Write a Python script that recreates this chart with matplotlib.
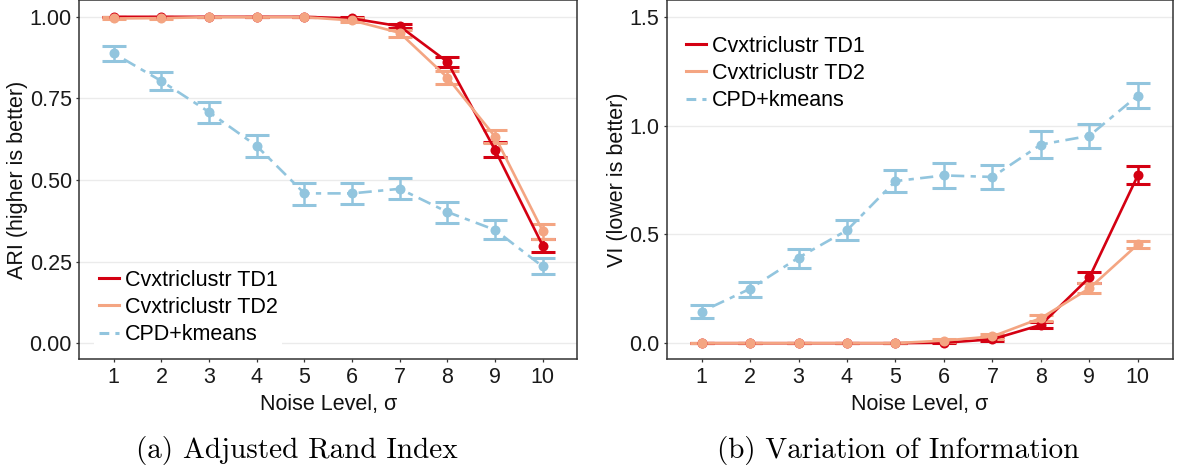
import matplotlib
matplotlib.use("Agg")
import matplotlib.pyplot as plt
from matplotlib.lines import Line2D
import numpy as np

noise = [1, 2, 3, 4, 5, 6, 7, 8, 9, 10]
series = ["Cvxtriclustr TD1", "Cvxtriclustr TD2", "CPD+kmeans"]

# ARI (mean, lower, upper)
ari_td1 = [1.000, 1.000, 1.000, 1.000, 1.000, 0.995, 0.971, 0.862, 0.592, 0.299]
ari_td1_lo = [1.000, 1.000, 1.000, 1.000, 1.000, 0.992, 0.965, 0.845, 0.569, 0.278]
ari_td1_hi = [1.000, 1.000, 1.000, 1.000, 1.000, 0.998, 0.977, 0.878, 0.615, 0.320]
ari_td2 = [0.995, 0.996, 0.999, 0.999, 0.999, 0.989, 0.951, 0.814, 0.633, 0.344]
ari_td2_lo = [0.992, 0.993, 0.998, 0.998, 0.998, 0.983, 0.939, 0.794, 0.612, 0.320]
ari_td2_hi = [0.998, 0.999, 1.000, 1.000, 1.000, 0.995, 0.961, 0.835, 0.653, 0.365]
ari_cpd = [0.888, 0.803, 0.708, 0.604, 0.459, 0.459, 0.473, 0.402, 0.347, 0.235]
ari_cpd_lo = [0.864, 0.776, 0.676, 0.571, 0.424, 0.426, 0.441, 0.369, 0.318, 0.212]
ari_cpd_hi = [0.910, 0.831, 0.739, 0.637, 0.490, 0.492, 0.506, 0.433, 0.376, 0.261]

# VI (mean, lower, upper)
vi_td1 = [0.000, 0.000, 0.000, 0.000, 0.000, 0.002, 0.018, 0.084, 0.302, 0.771]
vi_td1_lo = [0.000, 0.000, 0.000, 0.000, 0.000, 0.000, 0.009, 0.069, 0.278, 0.733]
vi_td1_hi = [0.000, 0.000, 0.000, 0.000, 0.000, 0.005, 0.030, 0.099, 0.328, 0.813]
vi_td2 = [0.000, 0.000, 0.000, 0.000, 0.000, 0.012, 0.031, 0.115, 0.252, 0.454]
vi_td2_lo = [0.000, 0.000, 0.000, 0.000, 0.000, 0.006, 0.020, 0.100, 0.229, 0.437]
vi_td2_hi = [0.000, 0.000, 0.000, 0.000, 0.000, 0.018, 0.042, 0.130, 0.275, 0.470]
vi_cpd = [0.145, 0.250, 0.393, 0.519, 0.745, 0.771, 0.764, 0.913, 0.953, 1.138]
vi_cpd_lo = [0.115, 0.214, 0.344, 0.473, 0.693, 0.715, 0.707, 0.852, 0.895, 1.081]
vi_cpd_hi = [0.176, 0.283, 0.434, 0.568, 0.797, 0.828, 0.819, 0.973, 1.008, 1.194]

ari_yticks = [0.00, 0.25, 0.50, 0.75, 1.00]
ari_yticklabels = ["0.00", "0.25", "0.50", "0.75", "1.00"]
vi_yticks = [0.0, 0.5, 1.0, 1.5]
vi_yticklabels = ["0.0", "0.5", "1.0", "1.5"]

colors = {"Cvxtriclustr TD1": "#D40012", "Cvxtriclustr TD2": "#F4A582", "CPD+kmeans": "#92C5DE"}
dashdot = (0, (2.0, 2.4, 5.0, 2.4))
styles = {"Cvxtriclustr TD1": "-", "Cvxtriclustr TD2": "-", "CPD+kmeans": dashdot}
legend_styles = {"Cvxtriclustr TD1": "-", "Cvxtriclustr TD2": "-", "CPD+kmeans": (0, (3.2, 2.0))}

plt.rcParams["font.family"] = ["Liberation Sans", "DejaVu Sans"]
FS = 15.5

W, H = 1182, 469
fig = plt.figure(figsize=(W / 100, H / 100), dpi=100)

def px_axes(x0, x1, y_top, y_bot):
    return fig.add_axes([x0 / W, 1 - y_bot / H, (x1 - x0) / W, (y_bot - y_top) / H])

axA = px_axes(79.5, 577, 0.5, 359.5)
axB = px_axes(666.7, 1172.7, 0.5, 359.5)

def draw(ax, data, ylim, yticks, yticklabels, ylabel, leg_anchor):
    for name in ["CPD+kmeans", "Cvxtriclustr TD1", "Cvxtriclustr TD2"]:
        m, lo, hi = data[name]
        m = np.array(m); lo = np.array(lo); hi = np.array(hi)
        c = colors[name]
        ax.errorbar(noise, m, yerr=[m - lo, hi - m], fmt="none", ecolor=c,
                    elinewidth=1.8, capsize=8.7, capthick=2.2, zorder=3)
        ax.plot(noise, m, color=c, lw=1.9, linestyle=styles[name], zorder=4,
                solid_capstyle="butt")
        ax.plot(noise, m, "o", color=c, ms=7.2, mec="none", zorder=5)
    ax.set_xlim(0.28, 10.72)
    ax.set_ylim(*ylim)
    ax.set_xticks(noise)
    ax.set_xticklabels([str(n) for n in noise])
    ax.set_yticks(yticks)
    ax.set_yticklabels(yticklabels)
    ax.grid(axis="y", color="#EBEBEB", lw=1.0, zorder=0)
    ax.set_axisbelow(True)
    for s in ax.spines.values():
        s.set_color("#333333")
        s.set_linewidth(1.1)
    ax.tick_params(axis="both", labelsize=FS, length=2.5, width=0.9,
                   color="#333333", labelcolor="#1a1a1a", pad=3.0)
    ax.set_xlabel("Noise Level, σ", fontsize=FS, va="center", color="#111111")
    ax.xaxis.set_label_coords(0.5, -(404 - 359) / 359)
    ax.set_ylabel(ylabel, fontsize=FS, va="center", color="#111111")
    w = ax.get_position().width * W
    ax.yaxis.set_label_coords(-(ax.get_position().x0 * W - leg_anchor[2]) / w, 0.5)
    handles = [Line2D([0], [0], color=colors[n], lw=2.2, linestyle=legend_styles[n]) for n in series]
    leg = ax.legend(handles, series, loc="upper left",
                    bbox_to_anchor=(leg_anchor[0], leg_anchor[1]),
                    frameon=True, fontsize=FS, handlelength=0.93, handletextpad=0.28,
                    labelspacing=0.29, borderpad=0.2, borderaxespad=0)
    leg.get_frame().set_facecolor("white")
    leg.get_frame().set_edgecolor("none")
    leg.get_frame().set_alpha(1)

draw(axA, {"Cvxtriclustr TD1": (ari_td1, ari_td1_lo, ari_td1_hi),
           "Cvxtriclustr TD2": (ari_td2, ari_td2_lo, ari_td2_hi),
           "CPD+kmeans": (ari_cpd, ari_cpd_lo, ari_cpd_hi)},
     (-0.05, 1.05), ari_yticks, ari_yticklabels, "ARI (higher is better)",
     (0.030, 0.262, 18))
draw(axB, {"Cvxtriclustr TD1": (vi_td1, vi_td1_lo, vi_td1_hi),
           "Cvxtriclustr TD2": (vi_td2, vi_td2_lo, vi_td2_hi),
           "CPD+kmeans": (vi_cpd, vi_cpd_lo, vi_cpd_hi)},
     (-0.075, 1.575), vi_yticks, vi_yticklabels, "VI (lower is better)",
     (0.030, 0.914, 618))

fig.text(297 / W, 1 - 450 / H, "(a) Adjusted Rand Index", family="cmr10",
         fontsize=21, ha="center", va="center")
fig.text(898 / W, 1 - 450 / H, "(b) Variation of Information", family="cmr10",
         fontsize=21, ha="center", va="center")

fig.savefig("out.png", dpi=100)
